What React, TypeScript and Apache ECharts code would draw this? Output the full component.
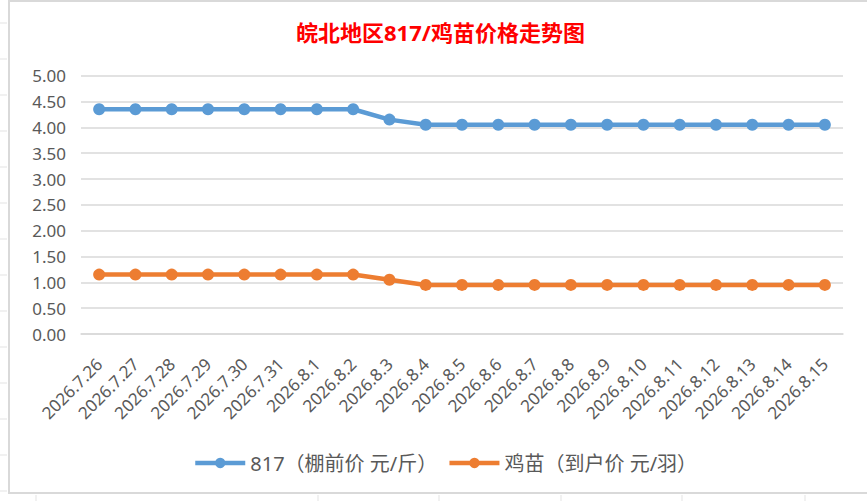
import React, { useEffect, useRef } from "react";
import * as echarts from "echarts";

const categories = [
  "2026.7.26", "2026.7.27", "2026.7.28", "2026.7.29", "2026.7.30", "2026.7.31",
  "2026.8.1", "2026.8.2", "2026.8.3", "2026.8.4", "2026.8.5", "2026.8.6",
  "2026.8.7", "2026.8.8", "2026.8.9", "2026.8.10", "2026.8.11", "2026.8.12",
  "2026.8.13", "2026.8.14", "2026.8.15",
];
const price817 = [
  4.35, 4.35, 4.35, 4.35, 4.35, 4.35, 4.35, 4.35, 4.15, 4.05, 4.05, 4.05,
  4.05, 4.05, 4.05, 4.05, 4.05, 4.05, 4.05, 4.05, 4.05,
];
const chickPrice = [
  1.15, 1.15, 1.15, 1.15, 1.15, 1.15, 1.15, 1.15, 1.05, 0.95, 0.95, 0.95,
  0.95, 0.95, 0.95, 0.95, 0.95, 0.95, 0.95, 0.95, 0.95,
];
const seriesNames = ["817（棚前价 元/斤）", "鸡苗（到户价 元/羽）"];
const titleText = "皖北地区817/鸡苗价格走势图";

const FONT = "'Noto Sans', 'Noto Sans CJK SC', sans-serif";

export default function App() {
  const ref = useRef<HTMLDivElement>(null);
  useEffect(() => {
    if (!ref.current) return;
    const chart = echarts.init(ref.current, undefined, { renderer: "svg" });
    const sheetLines: any[] = [];
    for (let k = 0; k <= 13; k++) {
      const y = 23 + 36 * k;
      sheetLines.push({
        type: "line",
        shape: { x1: 0, y1: y, x2: 7, y2: y },
        style: { stroke: "#E3E3E3", lineWidth: 1 },
        silent: true,
      });
    }
    [36, 318, 439, 561, 682, 805].forEach((x) => {
      sheetLines.push({
        type: "line",
        shape: { x1: x, y1: 495, x2: x, y2: 501 },
        style: { stroke: "#E3E3E3", lineWidth: 1 },
        silent: true,
      });
    });
    chart.setOption({
      animation: false,
      backgroundColor: "#FFFFFF",
      title: {
        text: titleText,
        left: 291,
        top: 16,
        textStyle: {
          color: "#FF0000",
          fontSize: 22,
          fontWeight: "bold",
          fontFamily: FONT,
        },
      },
      graphic: [
        ...sheetLines,
        {
          type: "rect",
          shape: { x: 9, y: 1, width: 880, height: 492 },
          style: { fill: "none", stroke: "#D9D9D9", lineWidth: 2 },
          silent: true,
          z: -1,
        },
      ],
      grid: { left: 81, right: 24, top: 75.7, bottom: 167, containLabel: false },
      legend: {
        left: 188,
        top: 448,
        itemWidth: 50,
        itemHeight: 13,
        itemGap: 10,
        lineStyle: { width: 4.5 },
        textStyle: { color: "#595959", fontSize: 20, fontFamily: FONT },
        data: seriesNames,
      },
      xAxis: {
        type: "category",
        data: categories,
        boundaryGap: true,
        axisLine: { show: true, lineStyle: { color: "#D9D9D9", width: 1.5 } },
        axisTick: { show: false },
        axisLabel: {
          rotate: 45,
          interval: 0,
          margin: 27,
          color: "#595959",
          fontSize: 17,
          fontFamily: FONT,
        },
      },
      yAxis: {
        type: "value",
        min: 0,
        max: 5,
        interval: 0.5,
        axisLine: { show: false },
        axisTick: { show: false },
        splitLine: { lineStyle: { color: "#D9D9D9", width: 1.5 } },
        axisLabel: {
          margin: 15,
          color: "#595959",
          fontSize: 17,
          fontFamily: FONT,
          formatter: (v: number) => v.toFixed(2),
        },
      },
      series: [
        {
          name: seriesNames[0],
          type: "line",
          data: price817,
          symbol: "circle",
          symbolSize: 12,
          itemStyle: { color: "#5B9BD5" },
          lineStyle: { color: "#5B9BD5", width: 4.5 },
        },
        {
          name: seriesNames[1],
          type: "line",
          data: chickPrice,
          symbol: "circle",
          symbolSize: 12,
          itemStyle: { color: "#ED7D31" },
          lineStyle: { color: "#ED7D31", width: 4.5 },
        },
      ],
    });
    return () => chart.dispose();
  }, []);
  return (
    <div
      ref={ref}
      style={{ position: "fixed", left: 0, top: 0, width: 867, height: 501, background: "#fff" }}
    />
  );
}
